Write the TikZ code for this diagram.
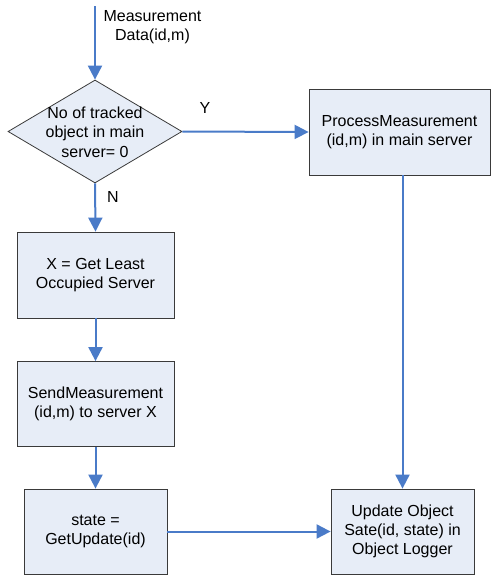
\documentclass[tikz,border=0pt]{standalone}
\usepackage{fontspec}
\setmainfont{Liberation Sans}
\usetikzlibrary{shapes.geometric,arrows.meta}
\definecolor{flowblue}{HTML}{4A7BC8}
\definecolor{boxfill}{HTML}{E7EDF7}
\definecolor{boxline}{HTML}{3A3A3A}
\tikzset{
  stepbox/.style={draw=boxline, fill=boxfill, line width=0.8pt, inner sep=0pt,
    align=center, font=\fontsize{16}{19}\selectfont},
  decision/.style={draw=boxline, fill=boxfill, line width=0.8pt, diamond, inner sep=0pt},
  flow/.style={draw=flowblue, line width=2pt,
    -{Triangle[width=14pt,length=14pt]}},
  lbl/.style={align=center, inner sep=0pt, font=\fontsize{16}{19}\selectfont}
}
\begin{document}
\begin{tikzpicture}[x=1pt,y=-1pt]
\useasboundingbox (0,0) rectangle (492,579);

% decision
\node[decision, minimum width=174pt, minimum height=103pt] (dia) at (95,131.5) {};
\node[lbl, font=\fontsize{16}{19.5}\selectfont] (diatext) at (95,132) {No of tracked\\object in main\\server= 0};

% process boxes
\node[stepbox, minimum width=181pt, minimum height=86pt] (pm) at (399.5,132) {ProcessMeasurement\\(id,m) in main server};
\node[stepbox, minimum width=157pt, minimum height=86pt] (least) at (95.5,275) {X = Get Least\\Occupied Server};
\node[stepbox, minimum width=157pt, minimum height=85pt] (send) at (95.5,404) {SendMeasurement\\(id,m) to server X};
\node[stepbox, minimum width=143pt, minimum height=85pt] (state) at (95.5,531.5) {state =\\GetUpdate(id)};
\node[stepbox, minimum width=143pt, minimum height=85pt] (upd) at (402.5,531.5) {Update Object\\Sate(id, state) in\\Object Logger};

% input
\coordinate (in) at (95,6);
\node[lbl] (inlabel) at (152.5,27) {Measurement\\Data(id,m)};

% connectors
\draw[flow] (in) -- (dia.north);
\draw[flow] (dia.east) -- (pm.west);
\draw[flow] (dia.south) -- (least.north);
\draw[flow] (least.south) -- (send.north);
\draw[flow] (send.south) -- (state.north);
\draw[flow] (pm.south -| upd.north) -- (upd.north);
\draw[flow] (state.east) -- (upd.west);

% branch labels
\node[lbl] (ylabel) at (205,108) {Y};
\node[lbl] (nlabel) at (113,197) {N};
\end{tikzpicture}
\end{document}
